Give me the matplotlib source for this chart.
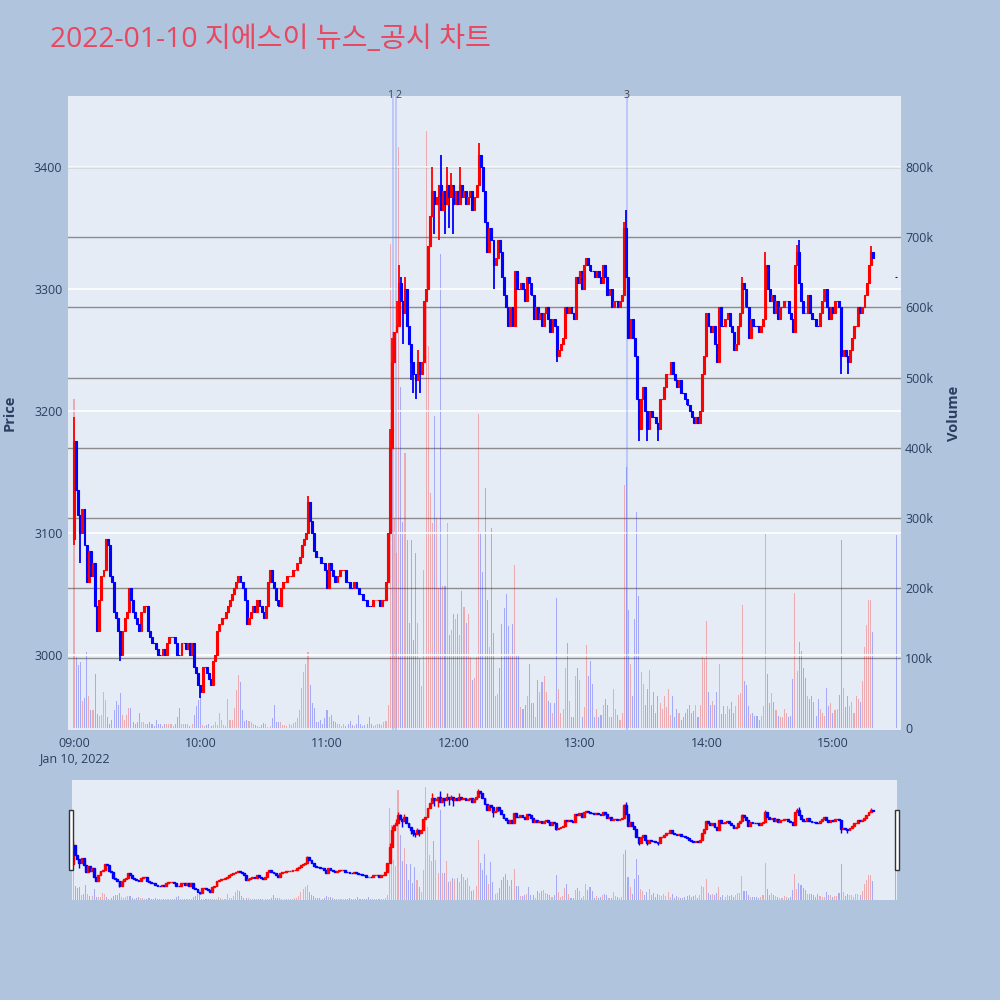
import numpy as np
import matplotlib
matplotlib.use("Agg")
import matplotlib.pyplot as plt
from matplotlib.patches import Rectangle
from matplotlib.transforms import blended_transform_factory

plt.rcParams['font.family'] = ['Open Sans', 'Noto Sans CJK KR', 'DejaVu Sans']

# ---------------- data ----------------
TITLE = "2022-01-10 지에스이 뉴스_공시 차트"
DATE_LABEL = "Jan 10, 2022"
HOUR_LABELS = ["09:00", "10:00", "11:00", "12:00", "13:00", "14:00", "15:00"]

FIRST_OPEN = 3095
# 1-minute closes from 09:00 to 15:19
CLOSE = [
    3175, 3135, 3115, 3100, 3120, 3090, 3060, 3085, 3065, 3075,
    3040, 3020, 3045, 3065, 3070, 3095, 3090, 3065, 3060, 3035,
    3030, 3020, 3000, 3020, 3030, 3035, 3055, 3045, 3035, 3030,
    3025, 3020, 3035, 3040, 3040, 3020, 3015, 3010, 3010, 3005,
    3000, 3000, 3005, 3000, 3010, 3015, 3015, 3015, 3010, 3000,
    3000, 3010, 3010, 3005, 3010, 3000, 3010, 2990, 2985, 2975,
    2970, 2990, 2990, 2985, 2980, 2975, 2995, 3000, 3020, 3025,
    3030, 3030, 3035, 3040, 3045, 3050, 3055, 3060, 3065, 3060,
    3055, 3045, 3025, 3030, 3035, 3040, 3035, 3045, 3040, 3035,
    3030, 3040, 3060, 3070, 3060, 3055, 3045, 3040, 3055, 3060,
    3060, 3065, 3065, 3065, 3070, 3070, 3075, 3080, 3090, 3095,
    3100, 3125, 3110, 3100, 3085, 3080, 3080, 3075, 3075, 3070,
    3055, 3075, 3070, 3065, 3060, 3065, 3070, 3070, 3070, 3060,
    3060, 3055, 3055, 3060, 3055, 3050, 3050, 3045, 3045, 3040,
    3040, 3040, 3045, 3045, 3045, 3040, 3045, 3045, 3060, 3100,
    3170, 3240, 3265, 3270, 3305, 3290, 3280, 3300, 3270, 3255,
    3240, 3230, 3225, 3240, 3230, 3240, 3290, 3300, 3335, 3360,
    3380, 3370, 3375, 3385, 3365, 3380, 3370, 3385, 3375, 3385,
    3370, 3380, 3370, 3385, 3375, 3380, 3370, 3375, 3380, 3365,
    3375, 3385, 3410, 3400, 3380, 3355, 3330, 3350, 3340, 3320,
    3325, 3340, 3330, 3310, 3295, 3285, 3270, 3285, 3270, 3315,
    3300, 3300, 3305, 3300, 3290, 3310, 3305, 3295, 3275, 3285,
    3275, 3280, 3270, 3280, 3285, 3275, 3265, 3275, 3270, 3245,
    3250, 3255, 3260, 3285, 3280, 3285, 3280, 3275, 3310, 3305,
    3315, 3300, 3320, 3325, 3320, 3315, 3315, 3310, 3315, 3310,
    3305, 3320, 3310, 3295, 3300, 3285, 3290, 3290, 3285, 3290,
    3295, 3350, 3310, 3260, 3275, 3260, 3245, 3210, 3185, 3210,
    3220, 3200, 3185, 3200, 3195, 3195, 3190, 3185, 3210, 3210,
    3220, 3230, 3230, 3240, 3230, 3225, 3220, 3225, 3215, 3215,
    3210, 3205, 3200, 3195, 3190, 3195, 3190, 3200, 3230, 3245,
    3280, 3270, 3265, 3270, 3255, 3240, 3285, 3270, 3270, 3275,
    3280, 3270, 3265, 3250, 3255, 3270, 3280, 3305, 3300, 3285,
    3260, 3275, 3270, 3270, 3270, 3265, 3270, 3275, 3320, 3300,
    3290, 3295, 3280, 3290, 3275, 3285, 3285, 3290, 3290, 3280,
    3275, 3265, 3320, 3330, 3305, 3290, 3280, 3280, 3295, 3280,
    3275, 3275, 3270, 3270, 3280, 3290, 3300, 3285, 3275, 3285,
    3280, 3290, 3290, 3285, 3245, 3250, 3245, 3240, 3250, 3260,
    3270, 3270, 3285, 3280, 3285, 3295, 3305, 3320, 3330, 3325,
]
AUCTION_TIME = "15:30"
AUCTION_PRICE = 3310

HIGH_WICKS = {0: 3195, 111: 3130, 150: 3185, 151: 3260, 153: 3290, 154: 3320,
              155: 3310, 157: 3310, 163: 3250, 170: 3400, 174: 3410, 177: 3400,
              179: 3395, 183: 3400, 192: 3420, 261: 3355, 262: 3365, 317: 3310,
              328: 3330, 343: 3336, 344: 3340, 378: 3335}
LOW_WICKS = {0: 3090, 3: 3075, 22: 2995, 60: 2965, 156: 3255, 160: 3225,
             161: 3215, 162: 3210, 164: 3215, 171: 3345, 173: 3340, 176: 3345,
             178: 3350, 180: 3345, 199: 3300, 229: 3240, 268: 3175, 272: 3175,
             277: 3175, 364: 3230, 367: 3230}

# volume in thousands of shares per minute
VOLUME_K = [
    470, 101, 90, 94, 38, 43, 108, 45, 26, 26,
    77, 20, 17, 19, 52, 40, 16, 6, 11, 26,
    38, 33, 50, 19, 11, 19, 28, 28, 9, 6,
    9, 21, 9, 9, 6, 5, 9, 5, 3, 12,
    6, 5, 3, 5, 6, 5, 6, 3, 5, 16,
    28, 6, 5, 6, 5, 3, 6, 19, 31, 40,
    45, 4, 3, 4, 5, 3, 4, 8, 4, 21,
    12, 4, 3, 42, 12, 12, 28, 54, 76, 66,
    26, 10, 12, 10, 8, 5, 4, 3, 2, 4,
    7, 5, 2, 3, 14, 33, 9, 9, 9, 4,
    4, 3, 5, 4, 7, 9, 14, 25, 57, 80,
    92, 109, 61, 35, 28, 9, 9, 12, 5, 14,
    26, 16, 19, 10, 8, 6, 5, 3, 5, 3,
    6, 10, 4, 3, 5, 19, 6, 3, 4, 5,
    16, 5, 3, 4, 5, 6, 4, 8, 10, 33,
    691, 565, 300, 250, 829, 486, 294, 392, 268, 150,
    268, 126, 249, 150, 98, 60, 226, 851, 545, 335,
    292, 445, 300, 200, 676, 202, 202, 292, 133, 140,
    162, 156, 162, 133, 195, 172, 150, 162, 101, 68,
    71, 101, 448, 279, 223, 343, 182, 115, 285, 136,
    45, 48, 86, 148, 171, 191, 145, 104, 148, 232,
    104, 105, 30, 27, 33, 45, 92, 36, 36, 15,
    68, 51, 66, 74, 51, 39, 36, 21, 36, 185,
    56, 21, 27, 86, 121, 39, 15, 15, 74, 86,
    68, 15, 30, 118, 74, 95, 63, 15, 27, 15,
    18, 33, 42, 33, 15, 15, 56, 27, 18, 12,
    21, 346, 373, 168, 92, 45, 156, 308, 188, 80,
    63, 33, 56, 83, 33, 51, 21, 45, 36, 27,
    45, 30, 56, 18, 45, 15, 27, 21, 12, 15,
    21, 27, 33, 21, 24, 33, 15, 33, 101, 98,
    153, 51, 33, 39, 33, 51, 92, 20, 32, 20,
    32, 27, 37, 22, 32, 47, 50, 175, 67, 62,
    32, 20, 22, 17, 17, 12, 17, 32, 277, 77,
    35, 50, 37, 25, 17, 15, 15, 27, 22, 15,
    17, 70, 192, 82, 122, 110, 85, 72, 45, 42,
    45, 37, 17, 42, 27, 22, 17, 57, 32, 35,
    22, 25, 27, 47, 268, 57, 30, 45, 32, 37,
    22, 45, 42, 37, 67, 115, 147, 182, 182, 137,
]
AUCTION_VOLUME_K = 275

NEWS_TIMES = ["11:31:20", "11:32:40", "13:22:10"]
NEWS_LABELS = ["1", "2", "3"]

PRICE_TICKS = [3000, 3100, 3200, 3300, 3400]
VOLUME_TICKS_K = [0, 100, 200, 300, 400, 500, 600, 700, 800]

# ---------------- helpers ----------------
def to_minutes(t):
    parts = [int(p) for p in t.split(":")]
    h, m = parts[0], parts[1]
    s = parts[2] if len(parts) > 2 else 0
    return (h - 9) * 60 + m + s / 60.0

n = len(CLOSE)
x = np.append(np.arange(n, dtype=float), to_minutes(AUCTION_TIME))
c = np.array(CLOSE + [AUCTION_PRICE], dtype=float)
o = np.array([FIRST_OPEN] + CLOSE[:-1] + [AUCTION_PRICE], dtype=float)
hi = np.maximum(o, c)
lo = np.minimum(o, c)
for k, v in HIGH_WICKS.items():
    hi[k] = max(hi[k], v)
for k, v in LOW_WICKS.items():
    lo[k] = min(lo[k], v)
vol = np.array(VOLUME_K + [AUCTION_VOLUME_K], dtype=float) * 1000

dirs = []
prev = 1
for i in range(len(c)):
    if c[i] > o[i]:
        d = 1
    elif c[i] < o[i]:
        d = -1
    else:
        pc = c[i - 1] if i > 0 else o[i]
        d = 1 if c[i] > pc else (-1 if c[i] < pc else prev)
    dirs.append(d)
    prev = d
dirs = np.array(dirs)

INC, DEC = "#FF0000", "#0000FF"
cols = np.where(dirs > 0, INC, DEC)

BG = "#B0C4DE"
PLOT_BG = "#E5ECF6"
TXT = "#2a3f5f"

PRICE_LIM = (2938.5, 3458.2)
VOL_LIM = (-2850, 901600)


def draw(ax_vol, ax_pr, body_lw, wick_lw, vol_alpha):
    ax_vol.bar(x, vol, width=0.5, color=cols, alpha=vol_alpha, lw=0, zorder=2)
    ax_pr.vlines(x, lo, hi, colors=cols, lw=wick_lw, zorder=3)
    ax_pr.bar(x, c - o, bottom=o, width=0.9, color=cols, edgecolor=cols,
              lw=body_lw, zorder=4)


fig = plt.figure(figsize=(10, 10), dpi=100, facecolor=BG)

# ---------------- main chart ----------------
ax_v = fig.add_axes([0.068, 0.27, 0.833, 0.634], facecolor=PLOT_BG)
ax_p = ax_v.twinx()
draw(ax_v, ax_p, 0.8, 1.3, 0.28)

ax_v.set_xlim(-2.85, 392.3)
ax_v.set_ylim(*VOL_LIM)
ax_p.set_ylim(*PRICE_LIM)

ax_v.set_yticks([v * 1000 for v in VOLUME_TICKS_K])
ax_v.set_yticklabels(["0" if v == 0 else f"{v}k" for v in VOLUME_TICKS_K])
ax_v.yaxis.tick_right()
ax_v.grid(axis="y", color="#8c8c8c", lw=1.0)
ax_v.set_axisbelow(True)
ax_v.yaxis.get_gridlines()[0].set_visible(False)

ax_p.set_yticks(PRICE_TICKS)
ax_p.set_yticklabels([str(p) for p in PRICE_TICKS])
ax_p.yaxis.tick_left()
ax_p.grid(axis="y", color="white", lw=1.2)
ax_p.set_axisbelow(True)

hour_pos = [to_minutes(h) for h in HOUR_LABELS]
labels = list(HOUR_LABELS)
labels[0] = labels[0] + "\n" + DATE_LABEL
ax_v.set_xticks(hour_pos)
ax_v.set_xticklabels(labels, linespacing=1.25)

for a in (ax_v, ax_p):
    for s in a.spines.values():
        s.set_visible(False)
    a.tick_params(length=0, labelsize=9, colors=TXT)
ax_v.tick_params(axis="x", pad=5)
ax_v.tick_params(axis="y", pad=3)
ax_p.tick_params(axis="y", pad=4)

# news markers
trans = blended_transform_factory(ax_p.transData, ax_p.transAxes)
aligns = ["right", "left", "center"]
for t, lab, ha in zip(NEWS_TIMES, NEWS_LABELS, aligns):
    xm = to_minutes(t)
    ax_p.axvline(xm, color=(0.35, 0.45, 1.0), alpha=0.35, lw=1.2, zorder=1)
    ax_p.text(xm, 1.0, lab, transform=trans, ha=ha, va="center",
              fontsize=7.5, color="#444444", zorder=6)

fig.text(0.010, 1 - 0.413, "Price", rotation=90, ha="center", va="center",
         fontsize=10.5, fontweight="bold", color=TXT)
fig.text(0.954, 1 - 0.413, "Volume", rotation=90, ha="center", va="center",
         fontsize=10.5, fontweight="bold", color=TXT)

fig.text(0.05, 0.96, TITLE, ha="left", va="center", fontsize=20.3, color="#E8475F")

# ---------------- range slider ----------------
ax_s = fig.add_axes([0.072, 0.10, 0.825, 0.12], facecolor=PLOT_BG)
ax_s2 = ax_s.twinx()
draw(ax_s, ax_s2, 1.0, 1.0, 0.28)
ax_s.set_xlim(-0.5, 390.5)
ax_s.set_ylim(*VOL_LIM)
ax_s2.set_ylim(*PRICE_LIM)
for a in (ax_s, ax_s2):
    a.set_xticks([])
    a.set_yticks([])
    for s in a.spines.values():
        s.set_visible(False)

for hx in (0.069, 0.895):
    fig.patches.append(Rectangle((hx, 0.13), 0.004, 0.06, transform=fig.transFigure,
                                 facecolor="white", edgecolor="#333333", lw=1.0,
                                 zorder=10))

fig.savefig("out.png", dpi=100, facecolor=BG)
